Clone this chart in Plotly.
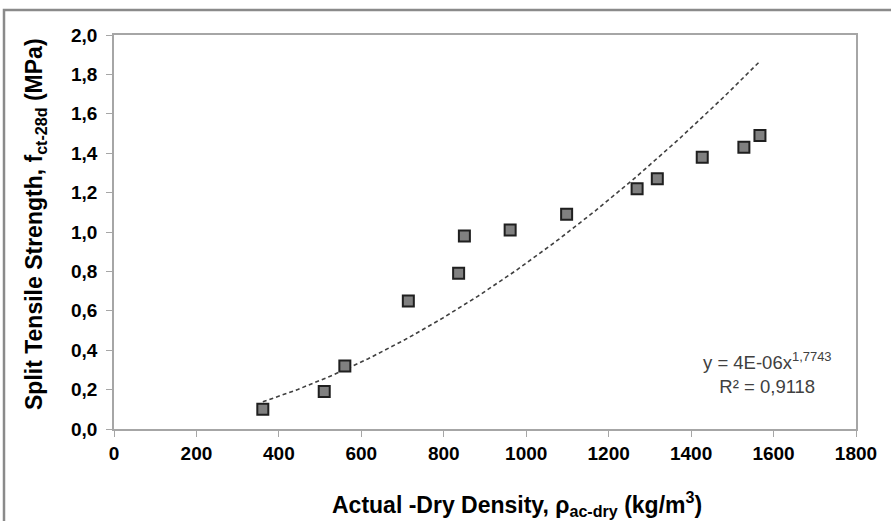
import numpy as np
import plotly.graph_objects as go

# Data
density = [361, 510, 560, 714, 836, 850, 961, 1098, 1269, 1318, 1427, 1528, 1567]
strength = [0.10, 0.19, 0.32, 0.65, 0.79, 0.98, 1.01, 1.09, 1.22, 1.27, 1.38, 1.43, 1.49]

# Power trendline shown on the chart: y = a * x^b
trend_a = 4e-06
trend_b = 1.7743
trend_r2 = "0,9118"

x_ticks = [0, 200, 400, 600, 800, 1000, 1200, 1400, 1600, 1800]
x_ticktext = ["0", "200", "400", "600", "800", "1000", "1200", "1400", "1600", "1800"]
y_ticks = [0.0, 0.2, 0.4, 0.6, 0.8, 1.0, 1.2, 1.4, 1.6, 1.8, 2.0]
y_ticktext = ["0,0", "0,2", "0,4", "0,6", "0,8", "1,0", "1,2", "1,4", "1,6", "1,8", "2,0"]

FONT = "Liberation Sans, Arial, sans-serif"

tx = np.linspace(min(density), max(density), 200)
ty = trend_a * tx ** trend_b

fig = go.Figure()
fig.add_trace(go.Scatter(
    x=tx, y=ty, mode="lines",
    line=dict(color="#404040", width=1.6, dash="4px,3px"),
    hoverinfo="skip", showlegend=False,
))
fig.add_trace(go.Scatter(
    x=density, y=strength, mode="markers",
    marker=dict(symbol="square", size=11, color="#808080",
                line=dict(color="#1f1f1f", width=2)),
    showlegend=False,
))

axis_common = dict(
    showline=True, mirror=True, linecolor="#a6a6a6", linewidth=1.5,
    ticks="outside", ticklen=6, tickcolor="#a6a6a6", tickwidth=1.2,
    showgrid=False, zeroline=False,
    tickfont=dict(family=FONT, size=19, color="#000000", weight="bold"),
)

fig.update_xaxes(range=[0, 1800], tickvals=x_ticks, ticktext=x_ticktext, **axis_common)
fig.update_yaxes(range=[0, 2.0], tickvals=y_ticks, ticktext=y_ticktext,
                 ticklabelstandoff=5, **axis_common)

# plot area should appear at x 114..856, y 35..429 (page margin removed below)
W, H = 891, 521
PL, PT, PW, PH = 114, 35, 742, 394
L, T = PL, PT
R = W - L - PW
B = H - T - PH

def px_to_paper(px, py):
    return (px - PL) / PW, (PT + PH - py) / PH

ann = []
xt = px_to_paper(517, 504)
ann.append(dict(x=xt[0], y=xt[1], xref="paper", yref="paper", showarrow=False,
                xanchor="center", yanchor="middle",
                text="<b>Actual -Dry Density, ρ<sub>ac-dry</sub> (kg/m<sup>3</sup>)</b>",
                font=dict(family=FONT, size=23, color="#000000")))
yt = px_to_paper(35, 224)
ann.append(dict(x=yt[0], y=yt[1], xref="paper", yref="paper", showarrow=False,
                xanchor="center", yanchor="middle",
                textangle=-90,
                text="<b>Split Tensile Strength, f<sub>ct-28d</sub> (MPa)</b>",
                font=dict(family=FONT, size=23, color="#000000")))
eq = px_to_paper(767, 373)
ann.append(dict(x=eq[0], y=eq[1], xref="paper", yref="paper", showarrow=False,
                xanchor="center", yanchor="middle",
                align="center",
                text="y = 4E-06x<sup>1,7743</sup><br>R² = " + trend_r2,
                font=dict(family=FONT, size=18.5, color="#404040")))

b0 = px_to_paper(4, 10)
shapes = [dict(type="rect", xref="paper", yref="paper",
               x0=b0[0], y0=b0[1], x1=1.2, y1=-0.4,
               line=dict(color="#8a8a8a", width=2.5), layer="below")]

fig.update_layout(
    width=W, height=H,
    margin=dict(l=L, r=R, t=T, b=B),
    paper_bgcolor="white", plot_bgcolor="white",
    annotations=ann, shapes=shapes,
    font=dict(family=FONT),
)

fig.write_html("out.html", config={"displayModeBar": False},
               post_script="document.body.style.margin='0';")
